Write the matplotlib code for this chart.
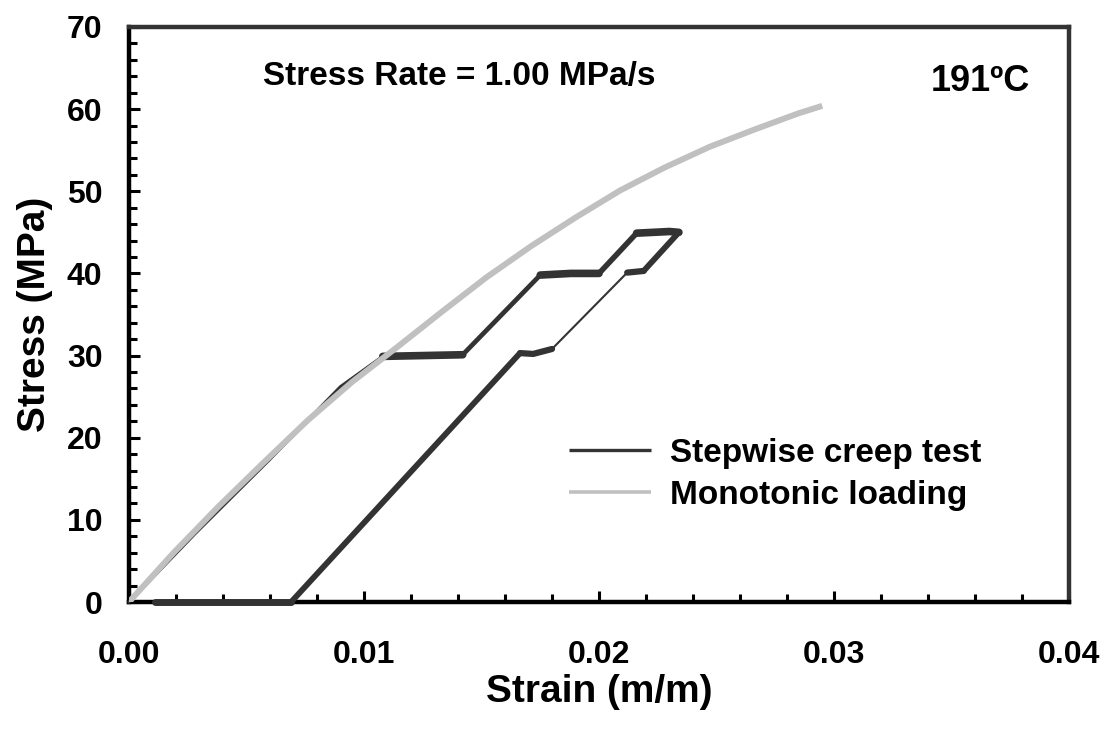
import numpy as np
import matplotlib
matplotlib.use("Agg")
import matplotlib.pyplot as plt
from matplotlib.lines import Line2D
from matplotlib.ticker import MultipleLocator, FormatStrFormatter

plt.rcParams['font.family'] = ['Liberation Sans', 'DejaVu Sans']
plt.rcParams['font.weight'] = 'bold'
plt.rcParams['axes.labelweight'] = 'bold'

# stepwise creep test (loading / creep holds / unloading / recovery)
step_strain = [0.0, 0.0028, 0.0060, 0.0090, 0.0108, 0.0125, 0.0142,
               0.0175, 0.0188, 0.0200, 0.0216, 0.0230, 0.0234,
               0.0219, 0.0212, 0.0180, 0.0172, 0.01664,
               0.0069, 0.0040, 0.0011]
step_stress = [0.0, 8.3, 17.4, 26.2, 29.9, 30.0, 30.1,
               39.8, 40.0, 40.0, 44.9, 45.1, 45.0,
               40.3, 40.1, 30.8, 30.2, 30.3,
               0.0, 0.0, 0.0]

# monotonic loading
mono_strain = [0.0, 0.0019, 0.0038, 0.0057, 0.0076, 0.0095, 0.0114, 0.0133,
               0.0152, 0.0171, 0.0190, 0.0209, 0.0228, 0.0247, 0.0266,
               0.0285, 0.0295]
mono_stress = [0.0, 6.0, 11.6, 16.9, 22.1, 26.8, 31.0, 35.3,
               39.5, 43.3, 46.8, 50.1, 52.9, 55.4, 57.5,
               59.5, 60.4]

dark = '#333333'
grey = '#c0c0c0'

fig = plt.figure(figsize=(11.07, 7.33), dpi=100)
ax = fig.add_axes([0.1165, 0.1787, 0.8492, 0.7845])

ax.plot(mono_strain, mono_stress, color=grey, lw=4.3, solid_capstyle='butt',
        solid_joinstyle='round', zorder=4)

# segment widths: (start index, end index, linewidth)
segs = [(0, 4, 2.4), (4, 6, 5.5), (6, 7, 3.4), (7, 9, 5.5), (9, 10, 4.0),
        (10, 12, 5.5), (12, 13, 4.2), (13, 14, 4.5), (14, 15, 1.5),
        (15, 17, 4.5), (17, 18, 4.2), (18, 20, 5.0)]
xs = np.array(step_strain)
ys = np.array(step_stress)
for i0, i1, lw in segs:
    ax.plot(xs[i0:i1 + 1], ys[i0:i1 + 1], color=dark, lw=lw,
            solid_capstyle='round', solid_joinstyle='round', zorder=3, clip_on=False)

ax.set_xlim(0, 0.04)
ax.set_ylim(0, 70)
ax.xaxis.set_major_locator(MultipleLocator(0.01))
ax.xaxis.set_minor_locator(MultipleLocator(0.002))
ax.yaxis.set_major_locator(MultipleLocator(10))
ax.yaxis.set_minor_locator(MultipleLocator(2))
ax.xaxis.set_major_formatter(FormatStrFormatter('%.2f'))

for s in ['left', 'bottom']:
    ax.spines[s].set_linewidth(3.2)
    ax.spines[s].set_color('black')
for s in ['top', 'right']:
    ax.spines[s].set_linewidth(3.2)
    ax.spines[s].set_color(dark)

ax.tick_params(which='both', direction='in', width=2.2, color='black')
ax.tick_params(which='major', length=8)
ax.tick_params(which='minor', length=6)
ax.tick_params(axis='x', which='major', pad=27, labelsize=23)
ax.tick_params(axis='y', which='major', pad=19, labelsize=23)

ax.set_xlabel('Strain (m/m)', fontsize=28, labelpad=3)
ax.set_ylabel('Stress (MPa)', fontsize=28, labelpad=10)

ax.text(0.0057, 64.0, 'Stress Rate = 1.00 MPa/s', fontsize=24, va='center')
ax.text(0.0341, 63.4, '191ºC', fontsize=26, va='center')

handles = [Line2D([], [], color=dark, lw=2.4, solid_capstyle='butt'),
           Line2D([], [], color=grey, lw=2.6, solid_capstyle='butt')]
ax.legend(handles, ['Stepwise creep test', 'Monotonic loading'],
          loc='center left', bbox_to_anchor=(0.468, 0.222), frameon=False,
          fontsize=24, handlelength=2.46, handletextpad=0.57,
          labelspacing=0.33, borderpad=0, borderaxespad=0)

fig.savefig('out.png', dpi=100)
